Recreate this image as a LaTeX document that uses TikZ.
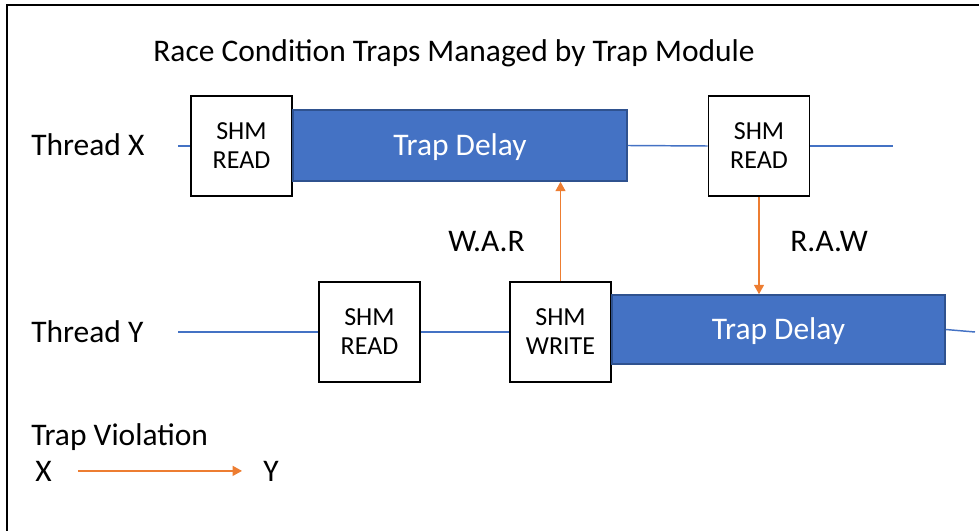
\documentclass[tikz,border=0pt]{standalone}
\usepackage{fontspec}
\setmainfont{Carlito}
\usetikzlibrary{arrows.meta}
\definecolor{offblue}{HTML}{4472C4}
\definecolor{darkblue}{HTML}{2F528F}
\definecolor{offorange}{HTML}{ED7D31}
\tikzset{
  big/.style={font=\fontsize{23.6}{28}\selectfont, inner sep=0pt},
  shmbox/.style={draw=black, line width=1.4pt, fill=white, inner sep=0pt,
    minimum width=101*0.75pt, minimum height=100*0.75pt, align=center,
    font=\fontsize{19.5}{21.75}\selectfont},
  delaybox/.style={draw=darkblue, line width=1.2pt, fill=offblue, text=white, inner sep=0pt,
    text height=15.2pt, text depth=0pt,
    font=\fontsize{23.6}{28}\selectfont},
  tline/.style={draw=offblue, line width=1.1pt},
  viol/.style={draw=offorange, line width=0.9pt, -{Triangle[length=7pt,width=7.5pt]}},
}
\begin{document}
\begin{tikzpicture}[x=0.75pt, y=-0.75pt]
\useasboundingbox (0,0) rectangle (979,531);
\draw[line width=1.5pt] (7,531) -- (7,5) -- (979,5);

\node[big, anchor=base] (title) at (454,62) {Race Condition Traps Managed by Trap Module};
\node[big, anchor=base west] (tx) at (31,156) {Thread X};
\node[big, anchor=base west] (ty) at (31,342) {Thread Y};

% thread X
\coordinate (xs) at (178,146);
\coordinate (xe) at (893,146);
\node[shmbox] (r1) at (241.5,146) {SHM\\READ};
\node[delaybox, minimum width=334*0.75pt, minimum height=71*0.75pt] (td1) at (460,145.5) {Trap Delay};
\node[shmbox] (r2) at (759,146) {SHM\\READ};
\draw[tline] (xs) -- (r1.west);
\draw[tline] (td1.east) -- (r2.west);
\draw[tline] (r2.east) -- (xe);

% thread Y
\coordinate (ys) at (178,332);
\coordinate (ye) at (975,332);
\node[shmbox] (ry) at (369.5,332) {SHM\\READ};
\node[shmbox] (w) at (560.5,332) {SHM\\WRITE};
\node[delaybox, minimum width=333*0.75pt, minimum height=69*0.75pt] (td2) at (778.5,329.5) {Trap Delay};
\draw[tline] (ys) -- (ry.west);
\draw[tline] (ry.east) -- (w.west);
\draw[tline] (td2.east) -- (ye);

% violations
\draw[viol] (w.north) -- (w.north |- td1.south);
\draw[viol] (r2.south) -- (r2.south |- td2.north);
\node[big, anchor=base west] (war) at (448,252) {W.A.R};
\node[big, anchor=base west] (raw) at (790,252) {R.A.W};

% legend
\node[big, anchor=base west] (tv) at (31,445) {Trap Violation};
\node[big, anchor=base west] (lx) at (35,481) {X};
\node[big, anchor=base west] (ly) at (263,481) {Y};
\draw[viol, shorten <=19.5pt, shorten >=15.75pt] (lx.east) -- (ly.west);
\end{tikzpicture}
\end{document}
